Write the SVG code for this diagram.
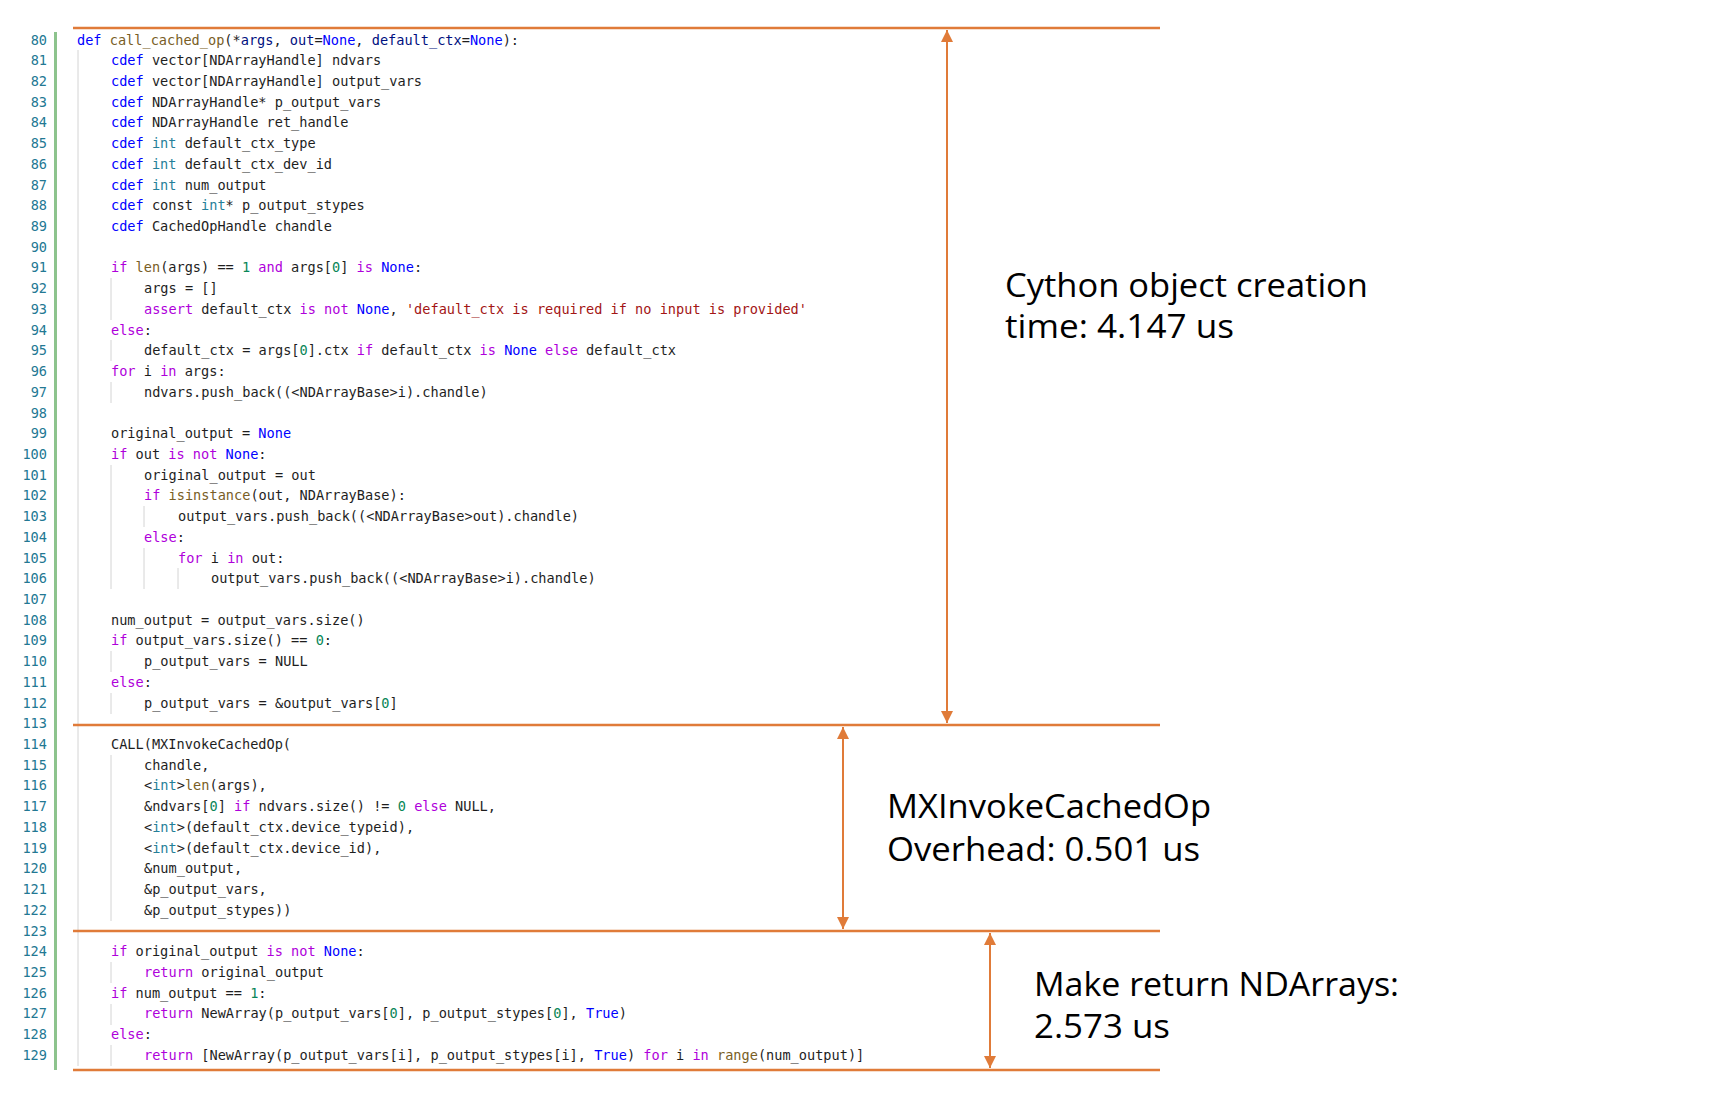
<svg xmlns="http://www.w3.org/2000/svg" width="1710" height="1108" viewBox="0 0 1710 1108">
<style>
.c{font-family:"DejaVu Sans Mono","Liberation Mono",monospace;font-size:13.6px;fill:#1e1e1e;white-space:pre}
.ln{font-family:"DejaVu Sans Mono",monospace;font-size:13.6px;fill:#237893;text-anchor:end}
.k{fill:#af00db}.b{fill:#0000ff}.t{fill:#267f99}.f{fill:#795e26}.n{fill:#098658}.s{fill:#a31515}.p{fill:#001080}
.g{stroke:#d4d4d4;stroke-width:1}
.sep{stroke:#e07b39;stroke-width:2.5}
.arr{stroke:#e07b39;stroke-width:2;marker-start:url(#a);marker-end:url(#a)}
.lbl{font-family:"Open Sans","Noto Sans",sans-serif;font-size:33px;font-weight:500;fill:#000}
</style>
<defs><marker id="a" viewBox="0 0 10 10" refX="10" refY="5" markerWidth="6" markerHeight="6" orient="auto-start-reverse" markerUnits="strokeWidth"><path d="M0,0L10,5L0,10z" fill="#e07b39"/></marker></defs>
<rect width="1710" height="1108" fill="#fff"/>
<g id="gutter">
<rect x="54" y="32" width="3" height="1038" fill="#8dc38d"/>
<g class="ln" transform="translate(0,-2)">
<text x="47" y="46.5">80</text><text x="47" y="67.2">81</text><text x="47" y="87.9">82</text><text x="47" y="108.7">83</text><text x="47" y="129.4">84</text><text x="47" y="150.1">85</text><text x="47" y="170.8">86</text><text x="47" y="191.5">87</text><text x="47" y="212.3">88</text><text x="47" y="233.0">89</text><text x="47" y="253.7">90</text><text x="47" y="274.4">91</text><text x="47" y="295.1">92</text><text x="47" y="315.9">93</text><text x="47" y="336.6">94</text><text x="47" y="357.3">95</text><text x="47" y="378.0">96</text><text x="47" y="398.7">97</text><text x="47" y="419.5">98</text><text x="47" y="440.2">99</text><text x="47" y="460.9">100</text><text x="47" y="481.6">101</text><text x="47" y="502.3">102</text><text x="47" y="523.1">103</text><text x="47" y="543.8">104</text><text x="47" y="564.5">105</text><text x="47" y="585.2">106</text><text x="47" y="605.9">107</text><text x="47" y="626.7">108</text><text x="47" y="647.4">109</text><text x="47" y="668.1">110</text><text x="47" y="688.8">111</text><text x="47" y="709.5">112</text><text x="47" y="730.3">113</text><text x="47" y="751.0">114</text><text x="47" y="771.7">115</text><text x="47" y="792.4">116</text><text x="47" y="813.1">117</text><text x="47" y="833.9">118</text><text x="47" y="854.6">119</text><text x="47" y="875.3">120</text><text x="47" y="896.0">121</text><text x="47" y="916.7">122</text><text x="47" y="937.5">123</text><text x="47" y="958.2">124</text><text x="47" y="978.9">125</text><text x="47" y="999.6">126</text><text x="47" y="1020.3">127</text><text x="47" y="1041.1">128</text><text x="47" y="1061.8">129</text>
</g>
</g>
<g id="guides" transform="translate(0,-2)">
<line class="g" x1="78" y1="52" x2="78" y2="1068"/>
<line class="g" x1="111" y1="280" x2="111" y2="322"/>
<line class="g" x1="111" y1="342" x2="111" y2="363"/>
<line class="g" x1="111" y1="384" x2="111" y2="405"/>
<line class="g" x1="111" y1="467" x2="111" y2="591"/>
<line class="g" x1="111" y1="653" x2="111" y2="674"/>
<line class="g" x1="111" y1="695" x2="111" y2="716"/>
<line class="g" x1="111" y1="757" x2="111" y2="923"/>
<line class="g" x1="111" y1="964" x2="111" y2="985"/>
<line class="g" x1="111" y1="1006" x2="111" y2="1027"/>
<line class="g" x1="111" y1="1047" x2="111" y2="1068"/>
<line class="g" x1="144" y1="508" x2="144" y2="529"/>
<line class="g" x1="144" y1="550" x2="144" y2="591"/>
<line class="g" x1="178" y1="570" x2="178" y2="591"/>
</g>
<g id="code" class="c" xml:space="preserve" transform="translate(0,-2)">
<text x="77" y="46.5"><tspan class="b">def</tspan> <tspan class="f">call_cached_op</tspan>(*<tspan class="p">args</tspan>, <tspan class="p">out</tspan>=<tspan class="b">None</tspan>, <tspan class="p">default_ctx</tspan>=<tspan class="b">None</tspan>):</text>
<text x="111" y="67.2"><tspan class="b">cdef</tspan> vector[NDArrayHandle] ndvars</text>
<text x="111" y="87.9"><tspan class="b">cdef</tspan> vector[NDArrayHandle] output_vars</text>
<text x="111" y="108.7"><tspan class="b">cdef</tspan> NDArrayHandle* p_output_vars</text>
<text x="111" y="129.4"><tspan class="b">cdef</tspan> NDArrayHandle ret_handle</text>
<text x="111" y="150.1"><tspan class="b">cdef</tspan> <tspan class="t">int</tspan> default_ctx_type</text>
<text x="111" y="170.8"><tspan class="b">cdef</tspan> <tspan class="t">int</tspan> default_ctx_dev_id</text>
<text x="111" y="191.5"><tspan class="b">cdef</tspan> <tspan class="t">int</tspan> num_output</text>
<text x="111" y="212.3"><tspan class="b">cdef</tspan> const <tspan class="t">int</tspan>* p_output_stypes</text>
<text x="111" y="233.0"><tspan class="b">cdef</tspan> CachedOpHandle chandle</text>
<text x="111" y="274.4"><tspan class="k">if</tspan> <tspan class="f">len</tspan>(args) == <tspan class="n">1</tspan> <tspan class="k">and</tspan> args[<tspan class="n">0</tspan>] <tspan class="k">is</tspan> <tspan class="b">None</tspan>:</text>
<text x="144" y="295.1">args = []</text>
<text x="144" y="315.9"><tspan class="k">assert</tspan> default_ctx <tspan class="k">is not</tspan> <tspan class="b">None</tspan>, <tspan class="s">'default_ctx is required if no input is provided'</tspan></text>
<text x="111" y="336.6"><tspan class="k">else</tspan>:</text>
<text x="144" y="357.3">default_ctx = args[<tspan class="n">0</tspan>].ctx <tspan class="k">if</tspan> default_ctx <tspan class="k">is</tspan> <tspan class="b">None</tspan> <tspan class="k">else</tspan> default_ctx</text>
<text x="111" y="378.0"><tspan class="k">for</tspan> i <tspan class="k">in</tspan> args:</text>
<text x="144" y="398.7">ndvars.push_back((&lt;NDArrayBase&gt;i).chandle)</text>
<text x="111" y="440.2">original_output = <tspan class="b">None</tspan></text>
<text x="111" y="460.9"><tspan class="k">if</tspan> out <tspan class="k">is not</tspan> <tspan class="b">None</tspan>:</text>
<text x="144" y="481.6">original_output = out</text>
<text x="144" y="502.3"><tspan class="k">if</tspan> <tspan class="f">isinstance</tspan>(out, NDArrayBase):</text>
<text x="178" y="523.1">output_vars.push_back((&lt;NDArrayBase&gt;out).chandle)</text>
<text x="144" y="543.8"><tspan class="k">else</tspan>:</text>
<text x="178" y="564.5"><tspan class="k">for</tspan> i <tspan class="k">in</tspan> out:</text>
<text x="211" y="585.2">output_vars.push_back((&lt;NDArrayBase&gt;i).chandle)</text>
<text x="111" y="626.7">num_output = output_vars.size()</text>
<text x="111" y="647.4"><tspan class="k">if</tspan> output_vars.size() == <tspan class="n">0</tspan>:</text>
<text x="144" y="668.1">p_output_vars = NULL</text>
<text x="111" y="688.8"><tspan class="k">else</tspan>:</text>
<text x="144" y="709.5">p_output_vars = &amp;output_vars[<tspan class="n">0</tspan>]</text>
<text x="111" y="751.0">CALL(MXInvokeCachedOp(</text>
<text x="144" y="771.7">chandle,</text>
<text x="144" y="792.4">&lt;<tspan class="t">int</tspan>&gt;<tspan class="f">len</tspan>(args),</text>
<text x="144" y="813.1">&amp;ndvars[<tspan class="n">0</tspan>] <tspan class="k">if</tspan> ndvars.size() != <tspan class="n">0</tspan> <tspan class="k">else</tspan> NULL,</text>
<text x="144" y="833.9">&lt;<tspan class="t">int</tspan>&gt;(default_ctx.device_typeid),</text>
<text x="144" y="854.6">&lt;<tspan class="t">int</tspan>&gt;(default_ctx.device_id),</text>
<text x="144" y="875.3">&amp;num_output,</text>
<text x="144" y="896.0">&amp;p_output_vars,</text>
<text x="144" y="916.7">&amp;p_output_stypes))</text>
<text x="111" y="958.2"><tspan class="k">if</tspan> original_output <tspan class="k">is not</tspan> <tspan class="b">None</tspan>:</text>
<text x="144" y="978.9"><tspan class="k">return</tspan> original_output</text>
<text x="111" y="999.6"><tspan class="k">if</tspan> num_output == <tspan class="n">1</tspan>:</text>
<text x="144" y="1020.3"><tspan class="k">return</tspan> NewArray(p_output_vars[<tspan class="n">0</tspan>], p_output_stypes[<tspan class="n">0</tspan>], <tspan class="b">True</tspan>)</text>
<text x="111" y="1041.1"><tspan class="k">else</tspan>:</text>
<text x="144" y="1061.8"><tspan class="k">return</tspan> [NewArray(p_output_vars[i], p_output_stypes[i], <tspan class="b">True</tspan>) <tspan class="k">for</tspan> i <tspan class="k">in</tspan> <tspan class="f">range</tspan>(num_output)]</text>
</g>
<g id="connectors">
<line class="sep" x1="73" y1="28" x2="1160" y2="28"/>
<line class="sep" x1="73" y1="725" x2="1160" y2="725"/>
<line class="sep" x1="73" y1="931" x2="1160" y2="931"/>
<line class="sep" x1="73" y1="1070" x2="1160" y2="1070"/>
<line class="arr" x1="947" y1="30" x2="947" y2="723"/>
<line class="arr" x1="843" y1="727" x2="843" y2="929"/>
<line class="arr" x1="990" y1="933" x2="990" y2="1068"/>
</g>
<g id="label-cython">
<text class="lbl" x="1005" y="297" textLength="363" lengthAdjust="spacingAndGlyphs">Cython object creation</text>
<text class="lbl" x="1005" y="338" textLength="229" lengthAdjust="spacingAndGlyphs">time: 4.147 us</text>
</g>
<g id="label-mx">
<text class="lbl" x="887" y="818" textLength="324" lengthAdjust="spacingAndGlyphs">MXInvokeCachedOp</text>
<text class="lbl" x="887" y="861" textLength="313" lengthAdjust="spacingAndGlyphs">Overhead: 0.501 us</text>
</g>
<g id="label-ret">
<text class="lbl" x="1034" y="996" textLength="365" lengthAdjust="spacingAndGlyphs">Make return NDArrays:</text>
<text class="lbl" x="1034" y="1038" textLength="136" lengthAdjust="spacingAndGlyphs">2.573 us</text>
</g>
</svg>
